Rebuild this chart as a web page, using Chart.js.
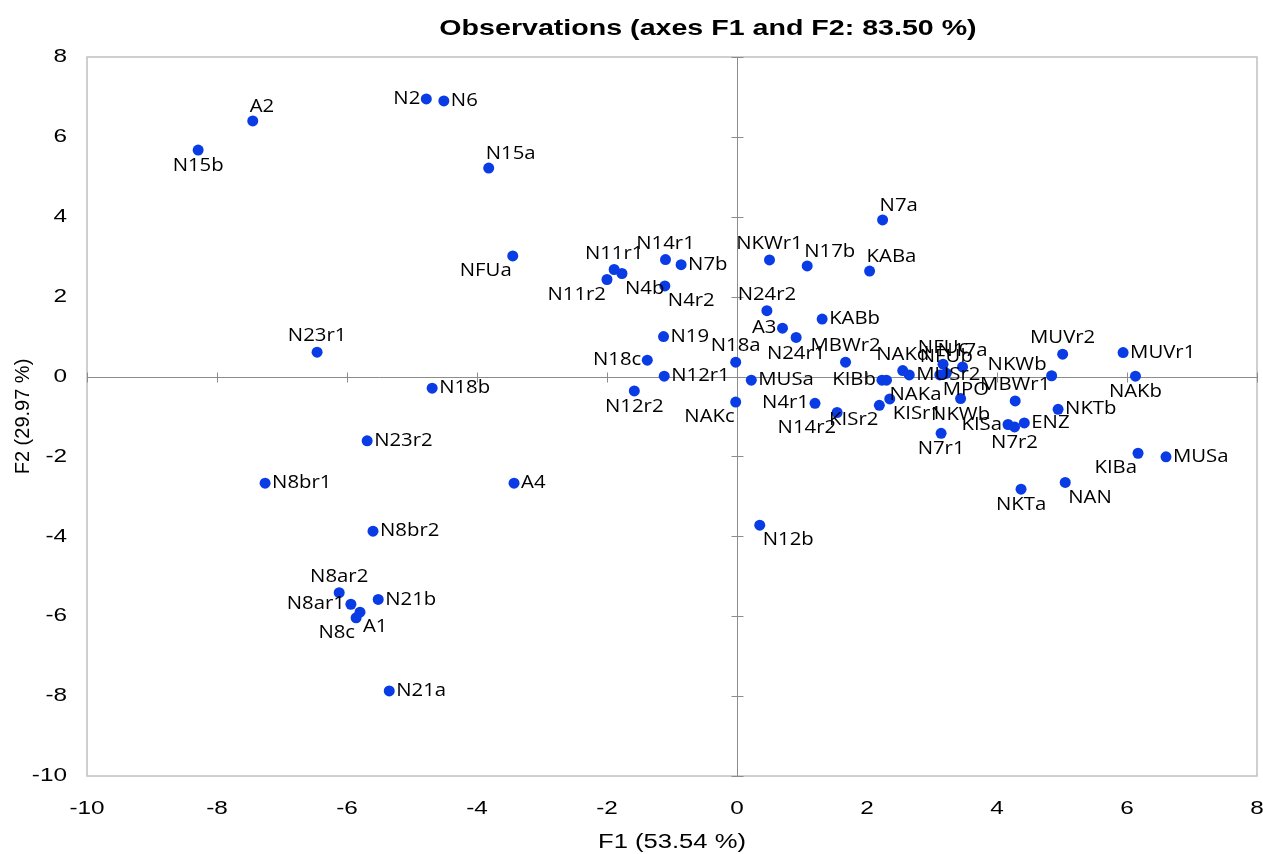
<!DOCTYPE html>
<html>
<head>
<meta charset="utf-8">
<script src="https://cdn.jsdelivr.net/npm/chart.js@4"></script>
<style>
html,body{margin:0;padding:0;background:#fff;}
#wrap{width:1263px;height:854px;}
</style>
</head>
<body>
<div id="wrap"><canvas id="c" width="1263" height="854"></canvas></div>
<script>
const names = ["A2","N15b","N2","N6","N15a","NFUa","N23r1","N18b","N23r2","N8br1","A4","N8br2","N8ar2","N8ar1","N8c","A1","N21b","N21a","N12b","N11r1","N4b","N11r2","N14r1","N7b","N4r2","N19","N18c","N12r1","N12r2","N18a","MUSa","NAKc","N24r2","A3","N24r1","KABb","MBWr2","N4r1","N14r2","KISr2","KISr1","KIBb","NAKa","NAKd","MUSr2","NFUc","NFUb","N17a","MPO","NKWb","N7r1","NKWb","MBWr1","MUVr2","NKTb","KISa","N7r2","ENZ","MUVr1","NAKb","KIBa","MUSa","NKTa","NAN","N7a","NKWr1","N17b","KABa"];
const f1 = [-7.45,-8.29,-4.78,-4.51,-3.82,-3.45,-6.46,-4.69,-5.69,-7.26,-3.43,-5.60,-6.12,-5.94,-5.86,-5.80,-5.52,-5.35,0.35,-1.89,-1.77,-2.00,-1.10,-0.86,-1.11,-1.13,-1.38,-1.12,-1.58,-0.02,0.22,-0.02,0.46,0.70,0.91,1.31,1.67,1.20,1.54,2.19,2.35,2.23,2.30,2.55,2.65,3.17,3.22,3.47,3.12,3.44,3.14,4.84,4.28,5.01,4.94,4.17,4.27,4.42,5.94,6.13,6.17,6.60,4.37,5.05,2.24,0.50,1.08,2.04];
const f2 = [6.40,5.67,6.95,6.90,5.22,3.02,0.61,-0.29,-1.61,-2.67,-2.67,-3.87,-5.41,-5.70,-6.04,-5.90,-5.58,-7.87,-3.72,2.68,2.58,2.43,2.93,2.80,2.27,1.00,0.41,0.01,-0.36,0.36,-0.09,-0.64,1.65,1.21,0.98,1.44,0.36,-0.67,-0.90,-0.72,-0.56,-0.09,-0.09,0.15,0.04,0.31,0.08,0.24,0.04,-0.55,-1.42,0.02,-0.61,0.56,-0.82,-1.20,-1.26,-1.16,0.60,0.01,-1.92,-2.01,-2.82,-2.65,3.92,2.92,2.77,2.64];
const xTicks = [-10,-8,-6,-4,-2,0,2,4,6,8];
const yTicks = [-10,-8,-6,-4,-2,0,2,4,6,8];
const chartTitle = 'Observations (axes F1 and F2: 83.50 %)';

// label placement (layout only)
const labelPos = ["tr","b","l","r","tr","bl","t","r","r","r","r","r","t","l","bl","br","r","r","br","t","br","bl","t","r","br","r","l","r","b","t","r","bl","t","l","b","r","t","l","bl","bl","br","l","br","t","r","t","t","t","br","b","b","tl","t","t","r","l","b","r","r","b","bl","r","b","br","tr","t","tr","tr"];

const points = f1.map((v,i)=>({x:v,y:f2[i]}));

const sansFamily = '"Liberation Sans", Arial, sans-serif';
const labelFont = '18px "Open Sans"';
const axisGray = '#8c8c8c';

// horizontally widened text rendering (the reference text is wide)
const stretchPlugin = {
  id:'stretch',
  beforeInit(chart){
    const ctx = chart.ctx;
    ctx._sx = 1.28;
    const of = ctx.fillText.bind(ctx);
    const om = ctx.measureText.bind(ctx);
    ctx.fillText = function(t,x,y,mw){
      const m = ctx.getTransform();
      if (Math.abs(m.b) > 1e-6 || Math.abs(m.c) > 1e-6) { return of(t,x,y); }
      ctx.save();
      ctx.translate(x,y);
      ctx.scale(ctx._sx,1);
      of(t,0,0);
      ctx.restore();
    };
    ctx.measureText = function(t){
      const r = om(t);
      return {width:r.width*ctx._sx,
        actualBoundingBoxAscent:r.actualBoundingBoxAscent,
        actualBoundingBoxDescent:r.actualBoundingBoxDescent,
        actualBoundingBoxLeft:r.actualBoundingBoxLeft*ctx._sx,
        actualBoundingBoxRight:r.actualBoundingBoxRight*ctx._sx};
    };
  }
};

const titlePlugin = {
  id:'ctitle',
  afterDraw(chart){
    const ctx = chart.ctx, a = chart.chartArea;
    ctx.save();
    ctx._sx = 1.3;
    ctx.font = 'bold 22px '+sansFamily;
    ctx.fillStyle='#000';
    ctx.textAlign='center';
    ctx.textBaseline='middle';
    ctx.fillText(chartTitle, (a.left+a.right)/2+36, 29);
    ctx._sx = 1.28;
    ctx.restore();
  }
};

const labelsPlugin = {
  id:'ptLabels',
  afterDatasetsDraw(chart){
    const ctx = chart.ctx;
    const xs = chart.scales.x, ys = chart.scales.y;
    ctx.save();
    ctx._sx = 1.13;
    ctx.font = labelFont;
    ctx.fillStyle = '#000';
    names.forEach((n,i)=>{
      const px = xs.getPixelForValue(f1[i]);
      const py = ys.getPixelForValue(f2[i]);
      const p = labelPos[i];
      let tx=px, ty=py, al='left';
      ctx.textBaseline='middle';
      switch(p){
        case 'r': tx=px+7; ty=py; al='left'; break;
        case 'l': tx=px-6; ty=py; al='right'; break;
        case 't': tx=px; ty=py-16; al='center'; break;
        case 'b': tx=px; ty=py+16; al='center'; break;
        case 'tr': tx=px-3; ty=py-14; al='left'; break;
        case 'tl': tx=px-5; ty=py-11; al='right'; break;
        case 'br': tx=px+3; ty=py+15; al='left'; break;
        case 'bl': tx=px-1; ty=py+15; al='right'; break;
      }
      ctx.textAlign=al;
      ctx.fillText(n,tx,ty);
    });
    ctx._sx = 1.28;
    ctx.restore();
  }
};

const framePlugin = {
  id:'frame',
  beforeDatasetsDraw(chart){
    const ctx = chart.ctx, a = chart.chartArea;
    const xs = chart.scales.x, ys = chart.scales.y;
    ctx.save();
    ctx.strokeStyle='#c0c0c0';
    ctx.lineWidth=1.5;
    ctx.strokeRect(a.left, a.top, a.right-a.left, a.bottom-a.top);
    const x0 = Math.round(xs.getPixelForValue(0))+0.5;
    const y0 = Math.round(ys.getPixelForValue(0))+0.5;
    ctx.strokeStyle=axisGray;
    ctx.lineWidth=1;
    ctx.beginPath();
    ctx.moveTo(x0,a.top); ctx.lineTo(x0,a.bottom);
    ctx.moveTo(a.left,y0); ctx.lineTo(a.right,y0);
    xTicks.forEach(v=>{
      const p = Math.round(xs.getPixelForValue(v))+0.5;
      ctx.moveTo(p,y0-5); ctx.lineTo(p,y0+5);
    });
    yTicks.forEach(v=>{
      const p = Math.round(ys.getPixelForValue(v))+0.5;
      ctx.moveTo(x0-6,p); ctx.lineTo(x0+6,p);
    });
    ctx.stroke();
    ctx.restore();
  }
};

new Chart(document.getElementById('c'),{
  type:'scatter',
  data:{datasets:[{
    data:points,
    backgroundColor:'#0a3ce6',
    borderWidth:0,
    pointRadius:5.5,
    pointHoverRadius:5.5
  }]},
  options:{
    responsive:false,
    animation:false,
    events:[],
    layout:{padding:{left:0,right:6,top:57,bottom:0}},
    plugins:{
      legend:{display:false},
      tooltip:{enabled:false},
      title:{display:false}
    },
    scales:{
      x:{
        type:'linear',min:-10,max:8,
        afterBuildTicks(s){ s.ticks = xTicks.map(v=>({value:v})); },
        afterFit(s){ s.height=78; s.paddingLeft=0; s.paddingRight=0; },
        grid:{display:false,drawTicks:false},
        border:{display:false},
        ticks:{color:'#000',padding:21,font:{family:sansFamily,size:19}},
        title:{display:true,text:'F1 (53.54 %)',color:'#000',padding:{top:2,bottom:0},
          font:{family:sansFamily,size:20}}
      },
      y:{
        type:'linear',min:-10,max:8,
        afterBuildTicks(s){ s.ticks = yTicks.map(v=>({value:v})); },
        afterFit(s){ s.width=87; s.paddingTop=0; s.paddingBottom=0; },
        grid:{display:false,drawTicks:false},
        border:{display:false},
        ticks:{color:'#000',padding:20,font:{family:sansFamily,size:19}},
        title:{display:true,text:'F2 (29.97 %)',color:'#000',padding:{top:11,bottom:0},
          font:{family:sansFamily,size:20}}
      }
    }
  },
  plugins:[stretchPlugin,framePlugin,labelsPlugin,titlePlugin]
});
</script>
</body>
</html>
